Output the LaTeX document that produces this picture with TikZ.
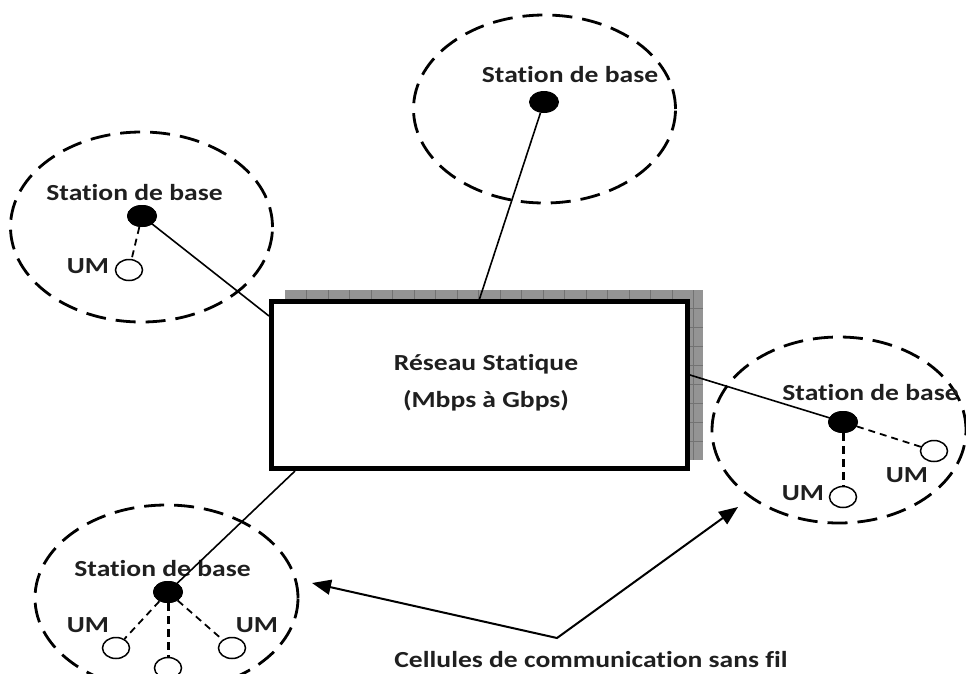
\documentclass[tikz,border=0pt]{standalone}
\usepackage{fontspec}
\setmainfont{Carlito}[FakeStretch=1.2, RawFeature={-liga}]
\usetikzlibrary{shapes.geometric,arrows.meta,calc}
\begin{document}
\begin{tikzpicture}[x=1pt,y=-1pt,
  cell/.style={draw, ellipse, dash pattern=on 20pt off 10pt, line width=2.8pt, inner sep=0pt},
  bs/.style={ellipse, fill=black, minimum width=30pt, minimum height=22pt, inner sep=0pt},
  um/.style={ellipse, draw, line width=1.5pt, fill=white, minimum width=27pt, minimum height=21pt, inner sep=0pt},
  lbl/.style={font=\fontsize{23}{37}\selectfont\bfseries, anchor=base, inner sep=0pt, text=black!88},
  wire/.style={line width=1.6pt},
  thinlink/.style={line width=1.8pt, dash pattern=on 7pt off 5pt},
  thicklink/.style={line width=3pt, dash pattern=on 8pt off 5pt},
  netbox/.style={draw, line width=5pt, fill=white, minimum width=416pt, minimum height=167pt, inner sep=0pt},
  gridline/.style={line width=1pt, draw=black!55},
  pointer/.style={line width=2pt, {Triangle[length=19pt,width=15pt]}-{Triangle[length=19pt,width=15pt]}}
]
\useasboundingbox (0,0) rectangle (966,673);

% cells
\node[cell, minimum width=262pt, minimum height=188pt] (cellT) at (544.5,109) {};
\node[cell, minimum width=262pt, minimum height=190pt] (cellL) at (141.5,227) {};
\node[cell, minimum width=254pt, minimum height=186pt] (cellR) at (839,430) {};
\node[cell, minimum width=263pt, minimum height=186pt] (cellB) at (166.5,598) {};

% shadow grid of the static network
\fill[black!42] (285,290) rectangle (703,460);
\foreach \x in {306.5,328,...,700} \draw[gridline] (\x,290) -- (\x,460);
\foreach \y in {308.5,327.5,...,458} \draw[gridline] (285,\y) -- (703,\y);

% static network box
\node[netbox] (box) at (479.5,385) {};
\node[lbl, align=center, anchor=center] (boxtext) at (486,383) {Réseau Statique\\(Mbps à Gbps)};

% base stations
\node[bs] (bsT) at (544,102) {};
\node[bs] (bsL) at (142,216) {};
\node[bs] (bsR) at (843,422) {};
\node[bs] (bsB) at (168,592) {};

\node[lbl] (lblT) at (570,82) {Station de base};
\node[lbl] (lblL) at (134.5,200) {Station de base};
\node[lbl] (lblR) at (870.5,400) {Station de base};
\node[lbl] (lblB) at (162.5,576) {Station de base};

% mobile units
\node[um] (umL) at (129,270) {};
\node[um] (umR1) at (934,451) {};
\node[um] (umR2) at (843,497) {};
\node[um] (umB1) at (116,648) {};
\node[um] (umB2) at (232,648) {};
\node[um] (umB3) at (168,668) {};

\node[lbl] (umLt) at (88,273) {UM};
\node[lbl] (umR1t) at (907,482) {UM};
\node[lbl] (umR2t) at (803,500) {UM};
\node[lbl] (umB1t) at (88,632) {UM};
\node[lbl] (umB2t) at (257,632) {UM};

% wired links
\draw[wire] (bsT) -- (box.north);
\draw[wire] (bsL.center) -- ([yshift=-17pt]box.north west);
\draw[wire] ([yshift=10pt]box.east) -- (bsR.center);
\draw[wire] (bsB.center) -- ([xshift=26pt]box.south west);

% wireless links
\draw[thinlink] (bsL) -- (umL);
\draw[thinlink] (bsR) -- (umR1);
\draw[thicklink] (bsR) -- (umR2);
\draw[thinlink] (bsB) -- (umB1);
\draw[thinlink] (bsB) -- (umB2);
\draw[thicklink] (bsB) -- (umB3);

% redraw dots above lines
\node[bs] at (bsL) {};
\node[bs] at (bsR) {};
\node[bs] at (bsB) {};

% annotation
\coordinate (tipL) at (312,583);
\coordinate (tipR) at (738,507);
\coordinate (apex) at (557,638);
\draw[pointer] (tipL) -- (apex) -- (tipR);
\node[lbl] (caption) at (591,667) {Cellules de communication sans fil};
\end{tikzpicture}
\end{document}
